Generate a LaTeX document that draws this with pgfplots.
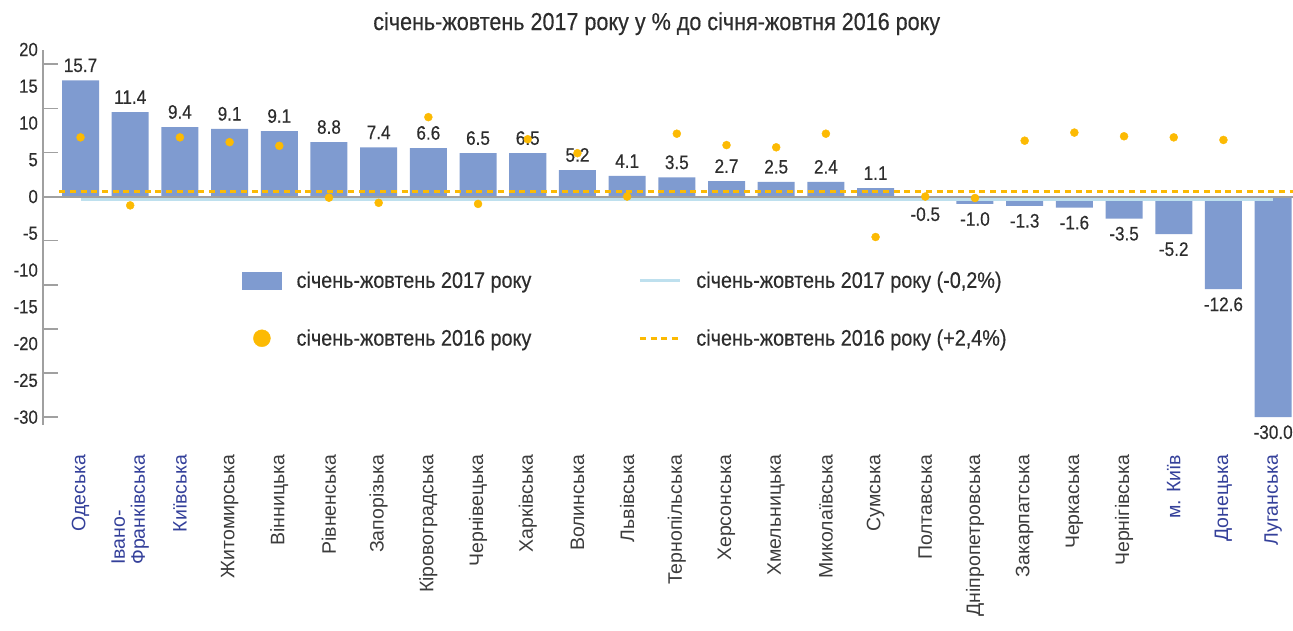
\documentclass[border=0pt]{standalone}
\usepackage{fontspec}
\setmainfont{Liberation Sans}[FakeStretch=0.88, FakeBold=0.4]
\newfontfamily\xfont{Liberation Sans}
\usepackage{pgfplots}
\pgfplotsset{compat=1.18}
\usepackage{pgfplotstable}
\definecolor{barc}{RGB}{127,155,208}
\definecolor{amber}{RGB}{252,186,3}
\definecolor{lblue}{RGB}{190,224,238}
\definecolor{axgray}{RGB}{160,160,160}
\definecolor{textc}{RGB}{45,45,45}
\definecolor{xblue}{RGB}{52,64,154}
\definecolor{xgray}{RGB}{60,60,60}

\pgfplotstableread{
x y lab
0 15.8 15.7
1 11.5 11.4
2 9.45 9.4
3 9.2 9.1
4 8.9 9.1
5 7.4 8.8
6 6.7 7.4
7 6.6 6.6
8 5.9 6.5
9 5.9 6.5
10 3.6 5.2
11 2.8 4.1
12 2.6 3.5
13 2.1 2.7
14 2.0 2.5
15 2.0 2.4
16 1.15 1.1
17 -0.35 -0.5
18 -1.0 -1.0
19 -1.25 -1.3
20 -1.5 -1.6
21 -3.0 -3.5
22 -5.1 -5.2
23 -12.6 -12.6
24 -30.0 -30.0
}\bardata

\pgfplotstableread{
x y
0 8.05
1 -1.2
2 8.05
3 7.4
4 6.9
5 -0.15
6 -0.85
7 10.8
8 -1.0
9 7.8
10 5.9
11 0.0
12 8.55
13 7.0
14 6.7
15 8.55
16 -5.5
17 0.0
18 -0.2
19 7.6
20 8.7
21 8.2
22 8.05
23 7.7
}\dotdata

\begin{document}
\begin{tikzpicture}
\useasboundingbox (0,0) rectangle (1293pt,630pt);
\begin{axis}[
  at={(43pt,205.5pt)}, anchor=south west,
  scale only axis, width=1250pt, height=375pt,
  xmin=-0.755, xmax=24.4, ymin=-31, ymax=20,
  clip=false,
  axis lines=left,
  axis line style={-},
  x axis line style={draw=none},
  y axis line style={draw=axgray, line width=2pt},
  tick align=inside,
  major tick length=0pt,
  tick style={draw=axgray, line width=1.5pt},
  /pgf/number format/assume math mode=true,
  ytick={-30,-25,...,20},
  extra y ticks={-30,-24,...,18},
  extra y tick labels={},
  extra y tick style={major tick length=15pt},
  yticklabel style={font=\fontsize{19}{19}\selectfont, text=textc, anchor=east, inner sep=0pt, xshift=-5pt},
  xtick={0,...,24},
  xticklabels={\color{xblue}Одеська, \color{xblue}Івано-\\\color{xblue}Франківська, \color{xblue}Київська, Житомирська, Вінницька, Рівненська, Запорізька, Кіровоградська, Чернівецька, Харківська, Волинська, Львівська, Тернопільська, Херсонська, Хмельницька, Миколаївська, Сумська, Полтавська, Дніпропетровська, Закарпатська, Черкаська, Чернігівська, \color{xblue}м. Київ, \color{xblue}Донецька, \color{xblue}Луганська},
  xticklabel style={yshift=-30pt, rotate=90, anchor=east, align=left, inner sep=0pt, font=\xfont\fontsize{19.5}{20}\selectfont, text=xgray},
  title={січень-жовтень 2017 року у \% до січня-жовтня 2016 року},
  title style={at={(0.491,1)}, anchor=base, yshift=13.5pt, font=\fontsize{24.5}{24.5}\selectfont, text=textc},
  legend columns=2, transpose legend,
  legend cell align=left,
  legend style={draw=none, fill=none, at={(axis cs:3.25,-9.9)}, anchor=north west,
    font=\fontsize{22.5}{22.5}\selectfont, text=textc, row sep=36pt, inner sep=0pt,
    /tikz/every odd column/.append style={column sep=13pt},
    /tikz/every even column/.append style={column sep=105pt}},
]
\addlegendimage{legend image code/.code={\fill[barc] (0pt,-8.5pt) rectangle (39pt,8.5pt);}}
\addlegendentry{січень-жовтень 2017 року}
\addlegendimage{legend image code/.code={\fill[amber] (19.5pt,0pt) circle (8.5pt);}}
\addlegendentry{січень-жовтень 2016 року}
\addlegendimage{legend image code/.code={\draw[lblue, line width=3pt] (0pt,0pt) -- (40pt,0pt);}}
\addlegendentry{січень-жовтень 2017 року (-0,2\%)}
\addlegendimage{legend image code/.code={\draw[amber, line width=3pt, dash pattern=on 6pt off 4.7pt] (0pt,0pt) -- (40pt,0pt);}}
\addlegendentry{січень-жовтень 2016 року (+2,4\%)}

\addplot[ybar, bar width=37pt, fill=barc, draw=none, forget plot,
  point meta=explicit,
  nodes near coords={\pgfmathprintnumber[fixed,fixed zerofill,precision=1]{\pgfplotspointmeta}},
  nodes near coords align={vertical},
  every node near coord/.append style={font=\fontsize{19.5}{19.5}\selectfont, text=textc, inner sep=8pt}]
  table[x=x, y=y, meta=lab]{\bardata};
\addplot[axgray, line width=2pt, forget plot] coordinates {(-0.755,0) (24.4,0)};
\addplot[lblue, line width=3pt, forget plot] coordinates {(0,-0.45) (24,-0.45)};
\addplot[amber, line width=3pt, dash pattern=on 6pt off 4.7pt, forget plot] coordinates {(-0.43,0.75) (24.4,0.75)};
\addplot[only marks, mark=*, mark size=4pt, color=amber, forget plot] table[x=x, y=y]{\dotdata};
\end{axis}
\end{tikzpicture}
\end{document}
